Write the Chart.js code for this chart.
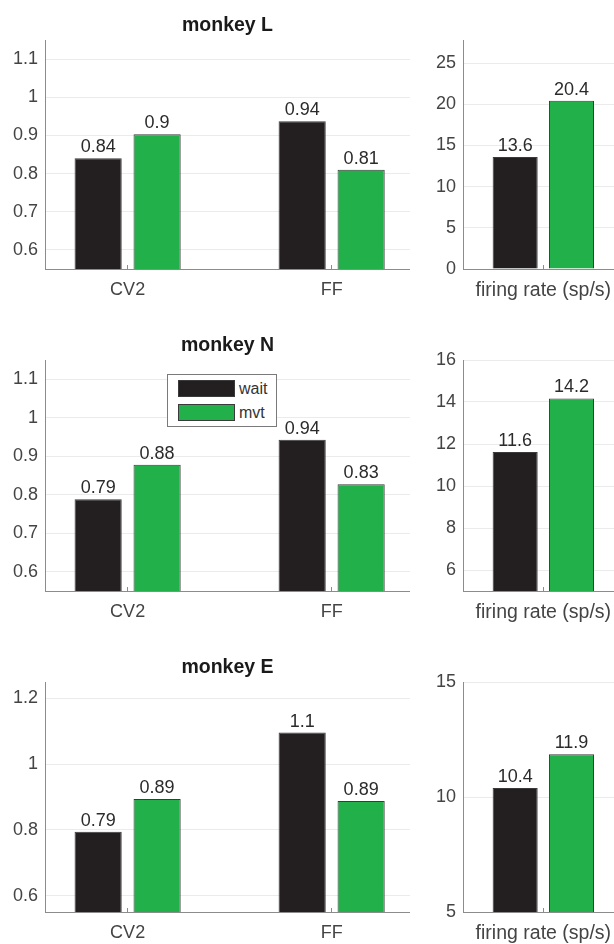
<!DOCTYPE html>
<html>
<head>
<meta charset="utf-8">
<script src="https://cdn.jsdelivr.net/npm/chart.js@4.4.1/dist/chart.umd.min.js"></script>
<style>
  html, body { margin: 0; padding: 0; background: #fff; }
  #wrap { position: relative; width: 614px; height: 944px; overflow: hidden; }
  canvas { position: absolute; }
  #legend {
    position: absolute; left: 167px; top: 374px; width: 108px; height: 51px;
    border: 1px solid #7a7a7a; background: #fff;
    font-family: "Liberation Sans", Arial, sans-serif; font-size: 16px; color: #333;
  }
  #legend .row { position: absolute; left: 10px; height: 17px; display: flex; align-items: center; }
  #legend .sw { width: 55px; height: 15px; border: 1px solid #3a3a3a; margin-right: 4px; }
</style>
</head>
<body>
<div id="wrap">
  <canvas id="cL" width="410" height="301" style="left:0;top:0"></canvas>
  <canvas id="rL" width="194" height="301" style="left:420px;top:0"></canvas>
  <canvas id="cN" width="410" height="303" style="left:0;top:320px"></canvas>
  <canvas id="rN" width="194" height="303" style="left:420px;top:320px"></canvas>
  <canvas id="cE" width="410" height="302" style="left:0;top:642px"></canvas>
  <canvas id="rE" width="194" height="302" style="left:420px;top:642px"></canvas>
  <div id="legend">
    <div class="row" style="top:5px"><div class="sw" style="background:#231f20"></div>wait</div>
    <div class="row" style="top:29px"><div class="sw" style="background:#22b04a"></div>mvt</div>
  </div>
</div>
<script>
// --- DATA ---
const measures = ['CV2', 'FF'];
const rateLabel = ['firing rate (sp/s)'];
const seriesNames = ['wait', 'mvt'];

const waitL = [0.84, 0.937];
const mvtL = [0.903, 0.81];
const waitN = [0.788, 0.943];
const mvtN = [0.878, 0.827];
const waitE = [0.794, 1.096];
const mvtE = [0.894, 0.888];

const rateWaitL = [13.6];
const rateMvtL = [20.44];
const rateWaitN = [11.62];
const rateMvtN = [14.17];
const rateWaitE = [10.39];
const rateMvtE = [11.86];

const ticksRatioLN = [0.6, 0.7, 0.8, 0.9, 1, 1.1];
const ticksRatioE = [0.6, 0.8, 1, 1.2];
const ticksRateL = [0, 5, 10, 15, 20, 25];
const ticksRateN = [6, 8, 10, 12, 14, 16];
const ticksRateE = [5, 10, 15];

// --- STYLE ---
const FONT = '"Liberation Sans", Arial, sans-serif';
const COLORS = ['#231f20', '#22b04a'];
const EDGE = '#3a3a3a';

// value labels on top of the bars
const valueLabels = {
    id: 'valueLabels',
    afterDatasetsDraw(chart, args, opts) {
        const ctx = chart.ctx;
        ctx.save();
        ctx.font = '18px ' + FONT;
        ctx.fillStyle = '#2b2b2b';
        ctx.textAlign = 'center';
        ctx.textBaseline = 'alphabetic';
        chart.data.datasets.forEach((ds, di) => {
            chart.getDatasetMeta(di).data.forEach((bar, i) => {
                const v = ds.data[i].y;
                const txt = String(Number(v.toFixed(opts.decimals)));
                ctx.fillText(txt, bar.x, bar.y - 6);
            });
        });
        ctx.restore();
    }
};

function makePanel(id, names, wait, mvt, o) {
    const pos = names.map((n, i) => i + 1);
    const toPoints = arr => arr.map((v, i) => ({ x: pos[i], y: v }));
    new Chart(document.getElementById(id), {
        type: 'bar',
        data: {
            datasets: [
                { label: seriesNames[0], data: toPoints(wait), backgroundColor: COLORS[0] },
                { label: seriesNames[1], data: toPoints(mvt), backgroundColor: COLORS[1] }
            ]
        },
        options: {
            responsive: false,
            animation: false,
            devicePixelRatio: 1,
            layout: { padding: { top: o.title ? 0 : 40, left: 0, right: 0, bottom: 0 } },
            datasets: {
                bar: {
                    borderColor: EDGE,
                    borderWidth: 1,
                    borderSkipped: 'start',
                    categoryPercentage: o.catPct,
                    barPercentage: 0.8
                }
            },
            scales: {
                x: {
                    type: 'linear',
                    offset: false,
                    min: o.xMin,
                    max: o.xMax,
                    afterBuildTicks: s => { s.ticks = pos.map(v => ({ value: v })); },
                    afterFit: s => { s.height = 32; s.paddingLeft = 0; s.paddingRight = 0; },
                    // small inward tick marks, no vertical grid
                    grid: { display: true, offset: false, drawOnChartArea: false, drawTicks: true, tickLength: -4, tickColor: '#8c8c8c' },
                    border: { display: true, color: '#8c8c8c', width: 1 },
                    ticks: {
                        autoSkip: false,
                        maxRotation: 0,
                        padding: 14,
                        color: '#444',
                        font: { family: FONT, size: o.xFont },
                        callback: v => names[v - 1]
                    }
                },
                y: {
                    min: o.yMin,
                    max: o.yMax,
                    afterBuildTicks: s => { s.ticks = o.yTicks.map(v => ({ value: v })); },
                    afterFit: s => { s.width = o.axisW; s.paddingTop = 0; s.paddingBottom = 0; },
                    grid: { color: '#ebebeb', lineWidth: 1, drawTicks: false },
                    border: { display: true, color: '#8c8c8c', width: 1 },
                    ticks: {
                        padding: 7,
                        color: '#444',
                        font: { family: FONT, size: 18 },
                        callback: v => String(v)
                    }
                }
            },
            plugins: {
                legend: { display: false },
                tooltip: { enabled: false },
                title: {
                    display: !!o.title,
                    text: o.title || '',
                    fullSize: false,
                    color: '#1a1a1a',
                    font: { family: FONT, size: 19.5, weight: 'bold', lineHeight: 1.2 },
                    padding: { top: 13.6, bottom: 3 }
                },
                valueLabels: { decimals: o.decimals }
            }
        },
        plugins: [valueLabels]
    });
}

const left = { xMin: 0.595, xMax: 2.384, catPct: 0.578, axisW: 45, decimals: 2, xFont: 18 };
const right = { xMin: 0.468, xMax: 1.468, catPct: 0.746, axisW: 43, decimals: 1, xFont: 19.5 };

makePanel('cL', measures, waitL, mvtL, { ...left, title: 'monkey L', yMin: 0.55, yMax: 1.15, yTicks: ticksRatioLN });
makePanel('rL', rateLabel, rateWaitL, rateMvtL, { ...right, yMin: 0, yMax: 27.8, yTicks: ticksRateL });
makePanel('cN', measures, waitN, mvtN, { ...left, title: 'monkey N', yMin: 0.55, yMax: 1.15, yTicks: ticksRatioLN });
makePanel('rN', rateLabel, rateWaitN, rateMvtN, { ...right, yMin: 5, yMax: 16, yTicks: ticksRateN });
makePanel('cE', measures, waitE, mvtE, { ...left, title: 'monkey E', yMin: 0.55, yMax: 1.25, yTicks: ticksRatioE });
makePanel('rE', rateLabel, rateWaitE, rateMvtE, { ...right, yMin: 5, yMax: 15, yTicks: ticksRateE });
</script>
</body>
</html>
